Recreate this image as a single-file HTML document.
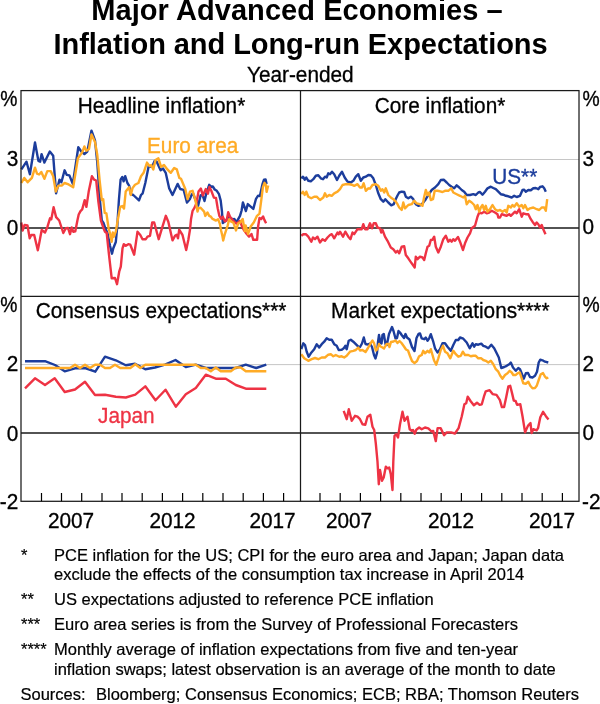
<!DOCTYPE html>
<html>
<head>
<meta charset="utf-8">
<title>Major Advanced Economies – Inflation and Long-run Expectations</title>
<style>
html,body{margin:0;padding:0;background:#fff;}
body{width:600px;height:704px;overflow:hidden;font-family:"Liberation Sans",sans-serif;}
svg{display:block;will-change:transform;}
text{font-family:"Liberation Sans",sans-serif;fill:#000;}
.t{font-weight:bold;font-size:29px;text-anchor:middle;}
.s{font-size:20.8px;stroke:#000;stroke-width:0.3px;}
.m{text-anchor:middle;}
.e{text-anchor:end;}
.f{font-size:16.5px;stroke:#000;stroke-width:0.2px;}
.ln{fill:none;stroke-width:2.4;stroke-linejoin:round;stroke-linecap:butt;}
.b{stroke:#1c3d9c;}
.o{stroke:#ffab26;}
.r{stroke:#ee3344;}
</style>
</head>
<body>
<svg width="600" height="704" viewBox="0 0 600 704">
<rect width="600" height="704" fill="#fff"/>
<!-- titles -->
<text class="t" x="297" y="20.3" style="letter-spacing:0.06px">Major Advanced Economies –</text>
<text class="t" x="300.6" y="53.7" style="letter-spacing:-0.065px">Inflation and Long-run Expectations</text>
<text class="s m" transform="translate(300.3 82.3) scale(1 1.05)">Year-ended</text>

<!-- gridlines -->
<g stroke="#c0c0c0" stroke-width="0.9" fill="none">
<path d="M21 159.5H579"/>
<path d="M21 364.6H579"/>
</g>
<!-- zero lines -->
<g stroke="#1a1a1a" stroke-width="1.4" fill="none">
<path d="M21 228H579"/>
<path d="M21 433H579"/>
</g>

<!-- DATA -->
<g id="p1">
<path class="ln b" d="M21.4,169.4 26.5,161.7 29.9,174.2 35,142.5 38.4,160.9 40.1,161.7 41.6,154.1 44.4,162.6 49.8,151.5 53.2,155.8 56.1,193.3 59.5,179.6 61.4,182.2 64.6,170.3 66.8,174.9 69.4,175.4 72.8,183.9 78.3,147.3 81.3,151.5 84.4,154.1 87.3,151.5 91.5,130.6 95,140.4 97.3,162.6 99.6,196.7 101.8,220.5 103.5,223 105,227.5 107.5,233.3 110,245.8 112,253.7 113.3,248.3 115.8,242 117.3,226 118.9,200 120.6,179.6 122.3,177 123.6,181.3 125.2,176.2 127.4,183 129.1,185.6 130.8,194.1 133.3,195 139,200.4 141,195 142.7,193.3 145.3,183 148.7,166 152.1,166.8 154.6,160.9 156.7,161.7 160.6,170.3 163.1,168.6 165.7,172.8 169.1,188.1 172.5,195 177.6,183.9 180.2,189 183.6,189.8 187,202.6 190,198.9 191.7,194.6 193,193.3 195.5,200 198.1,205.7 200.6,195.4 202.4,194.6 204.5,201 206.2,193.7 209.2,184.8 211.3,186.9 212.8,186.5 214.7,189.5 216.8,190.8 219,194.2 220.7,200.6 221.9,210.8 222.8,223.1 225.8,220.8 228.7,216.7 232.6,219.3 234.3,218.9 236.4,222.3 240,215.9 241.6,210.5 242.9,202.5 245.9,211 247.8,204.1 253.3,208.9 256,198.8 258.1,195.6 259.9,196.1 262.4,184.4 264,179.6 265.6,179.4 266.6,183.9"/>
<path class="ln r" d="M21.3,222.5 22.6,230.5 24.6,225 27.5,225.5 29.7,238.3 31.3,235 34.2,235 37.8,250.3 39.2,243.3 41.7,230 45,232.5 47.5,226.7 50,218.3 51.3,219.2 53.6,207.2 56.1,217.1 59.2,220.5 63.3,233 65.8,228.3 68,228 70,234.2 71.7,227.5 73.3,231.7 75.3,231.3 77.5,220 78.7,214.5 80.5,211.1 82.2,209.4 84.7,200.1 86.4,206.9 88.7,191.6 91.9,176.2 94.1,179.6 96.2,180.5 98.4,201.8 100.9,220.5 103.5,228.2 105,231.7 106.7,233 109.2,256.7 111.7,278.3 115,278 117,284.2 119.2,271.7 120.8,266.7 122.5,248.3 123.8,244.2 125.8,245.8 128.3,244.2 130.3,244.7 134.2,254.7 137.5,231.7 140.3,235 142.5,239.2 145.8,239.2 147.5,236.7 150,235.8 152.2,222.5 154.2,222.5 158.7,239.2 161.7,229.2 165.8,215.8 168.3,221.7 172.5,240.3 175,235.8 176.7,234.7 178,238.3 179.2,229.7 182.5,235 186.2,250 188.3,240 190,229.5 191,219.3 192.6,210.8 194.7,207.4 196.4,203.1 198.5,191.6 200.9,188.6 202.8,195.4 205.8,189.1 207.9,193.7 209.4,186.9 211.3,190.8 213.9,197.6 216,198 217.7,208.2 219.4,215.9 221.1,218.9 222.8,216.7 224.9,221.4 226.6,220.6 228.2,212.1 230,216.7 232.6,220.1 236.4,223.6 240,221 241.6,225.4 243.7,229.7 245.9,232.9 249.1,236.6 251.5,234 253.3,239.8 257.1,239.8 258.1,226.5 259.5,218 261.3,219 263.1,216.4 264.5,220.1 266.1,223.3"/>
<path class="ln o" d="M21.4,183 24.3,177.9 27.7,182.2 31.9,177.9 35,167.7 37,173.7 39.1,174.5 41.3,172 44.4,178.8 47.3,171.1 50.7,171.1 53.2,176.2 55.8,191.6 58.3,185.6 61.7,185.6 64.6,183 68.6,184.4 73.2,187.3 77.9,158.3 82.2,152.4 84.4,146.4 86.4,150.7 89,149 91.5,134.5 95,142.1 97.3,155 99.6,180 101.8,200 103.2,199.2 104.7,212.8 106.4,213.4 108.6,228.2 110,233.3 111.7,241.7 112.8,232.5 113.8,236.7 115.8,231.6 118,218.8 120.2,206.9 122.3,206 124,208.6 125.7,191.6 127.7,189 129.1,187.3 130.8,195 132.5,188.1 135,184.7 138.4,183 141,176.2 143.6,172.8 147,162.6 149.5,166 151.2,165.1 153.3,169.4 155.5,160 158.4,158.3 161.1,166.8 164,165.1 167.4,169.4 170.8,172.8 174.2,168 176.8,169.4 179.3,177.9 181,178.8 185.3,189 187.6,199.2 190,191.6 192.6,190.8 194.3,196.3 196.4,204.8 197.5,211.6 198.5,208.2 200.6,207.8 204.1,211.6 205.3,215.9 207.5,212.5 209.2,215.9 210.9,216.7 212.6,218.9 216,220.6 218.1,219.3 219.8,223.6 221.1,230.4 222.4,236 223.2,240.5 224.9,233.8 227.5,226.1 229.2,219.3 230.9,221.4 233.4,222.7 236,230.4 238.1,223.6 240,222.7 242.7,219 244.8,231.3 245.6,225.4 248,234 250.7,226.5 253.9,222.2 257,215.8 259.5,213.7 261.3,199.9 262.9,187.1 264.5,182.8 265.9,184.9 266.6,191.9 268.2,185.5"/>
</g>
<g id="p2">
<path class="ln b" d="M301.3,178.3 303,176.7 304.7,179.7 306.3,177.5 308.3,180.8 310.8,181.3 313.3,179.2 315.8,175.8 318.3,175.3 320.8,178.3 323,179.2 325,176.7 326.7,177.5 328.3,173.3 330,174.2 332,171.7 334.2,174.2 337,180 339.2,175.8 342,171.7 344.7,177.5 347.5,181.7 350.8,182.5 353.3,180.8 355.8,176.7 358.3,174.2 360.8,180.8 363.3,177.5 365.8,176.7 368.3,175 370.8,175.3 373.3,178.3 375.8,185 378.3,193.3 380.8,199.2 383.3,201.7 385.3,199.2 388.3,202.5 391.3,205.3 393.7,204.2 395.8,199 397.5,195.5 399.2,192.5 401.7,191.7 404.2,192 405.8,196.7 408.3,198.3 410.8,196.7 413.3,199.2 415.8,204.2 418.3,205.8 420.8,205 423.3,202.5 425.8,199.2 428.3,195 431.7,190 435,187.5 438.3,184.2 440.8,180 443.7,179.7 446.7,182.5 449.2,185 451.7,186.7 454.2,188.3 456.7,185.3 459.2,187.5 461.7,190 464.2,191.7 466.7,195 470,195 473.3,194.2 475.8,195 478.3,192.5 480,192 482.5,194.7 485,191.7 487.5,188.3 490.8,186.7 493.3,188 495.8,189.2 498.3,191.7 500.8,194.2 503.3,194.7 505.8,195.8 508.3,196.3 511.7,197.5 514.2,195.8 516.7,197 520,195.8 522.5,190 524.2,189.7 525.8,191.7 528.3,190 530.8,190.3 533.3,188.3 535.8,188 538.3,189.2 540,187 542.5,186.3 544.2,188.3 545.8,191.7"/>
<path class="ln r" d="M301.3,235.8 303.3,234.2 305.8,234.2 308.3,236.7 311.3,241.7 313,237.5 315,239.2 317.5,236.7 320,242.5 322.5,239.2 325,240.8 327.5,237.5 330,235 331.7,234.2 334.2,238.3 337.5,232.5 338.7,234.2 340,231.7 343,236.7 345.3,231.7 348.3,236.7 350.5,239.2 352.5,232.5 354.2,234.2 357.5,229.2 361.7,229.2 363.3,224.2 365,229.2 367.5,229.2 370,223.3 372,228.3 373.7,223.3 375.8,223.3 377.5,227.5 380,228.3 381.2,232.5 382.5,230 385,236.7 387.5,240.8 390.8,247.5 393.3,249.2 395.8,252.5 397.5,250.8 399.2,253.3 401.7,246.7 404.2,246.3 405.8,255 408.3,258.3 411.7,263.3 414.7,267.5 415.8,256.7 417.5,259.2 420,256.7 422.5,257.5 424.2,260 425.8,253.3 427.5,246.7 429.2,245.8 430.8,240 432.5,239.7 434.2,236.7 435.8,246.7 438.3,252.5 440.8,246.7 443.3,239.2 445.8,235.8 448.3,241.7 450,239.7 451.7,241.7 453.3,239.2 455,240.8 458,237 460,241.7 463,250 465,243.3 467.5,237.5 470,233.3 471.7,228.3 475,225.8 477.5,216.7 479.2,212.5 481.7,213.3 484.2,211.7 486.7,213.3 489.2,212.5 491.7,210.8 495,212.5 497.5,214.2 498.3,217.5 500,217.5 501.7,214.2 504.2,215 506.7,215.8 509.2,214.2 510.8,215.8 513.3,213.3 515,211.7 516.7,213.3 519.2,209.2 521.7,216.7 523.3,213.3 525.8,214.2 528.3,214.2 530.8,219.2 532.5,221.7 535,225 536.7,222.5 538.3,224.2 540,227.5 541.7,225 543.3,229.2 545.5,234.2"/>
<path class="ln o" d="M301.3,194.2 303,191.7 304.7,195 306.3,191.7 308.3,196.7 311.3,198.3 314.2,196.7 316.7,196.7 320,200 323.3,197.5 325,193.3 326.7,196.7 329.2,195 331.7,195.8 334.2,193.3 337.5,191.7 340,189.2 342.5,185 345.8,184.2 349.2,184.2 351.7,184.7 354.2,185.8 357.5,184.2 360,187.5 362,187.5 363.7,183.3 365.8,190.8 368.3,188.3 370,188.7 372.5,185 375.8,184.2 378.3,185.8 380.8,190.8 382.5,189.2 384.2,192.5 385.8,188.3 388.3,195 390.8,197.5 393.3,199.2 395.8,201.7 397.5,204.2 399.2,207.5 401.7,210 403.3,202.5 405,208.3 408.3,205 411.7,204.2 414.2,200.8 416.7,203.3 420,204.2 422.5,205.8 424.2,196.7 425.8,190 427.5,195 429.2,192.5 430.8,200 433,199.2 434.7,190.8 437.5,190.8 440,191.3 442.5,192 445,190.8 448.3,190.8 451.2,188.3 453.3,192.5 456.7,194.2 460,195.8 463.3,197.5 465,195.8 466.7,204.2 469.2,200.8 471.7,202.5 474.2,205 475.8,209.2 477.5,205 479.2,211.7 480.8,207.5 482.5,205 484.2,210 485.8,205.8 487.5,211.7 490,209.2 492.5,205 495,209.2 497.5,210.8 500,210 502.5,211.7 505,210 506.7,212.5 508.3,205.8 510.8,207.5 512.5,205 514.2,206.7 516.7,203.3 519.2,206.7 521.7,205 523.3,208.3 525,205 527.5,210 530,208.3 533.3,207.5 536.7,209.2 539.2,210 541.7,207.5 544.2,207.5 545.8,210.8 547.2,199.2"/>
</g>
<g id="p3">
<path class="ln r" d="M25,388.3 35,378.3 45,385 54.7,378.3 64.7,392 75,389.5 85,381.7 95,395 105,394.7 115.8,396.7 125.8,397.5 135.3,394.7 145.3,386.3 155.5,400.3 165.5,389.7 175.8,406.7 185.8,394.2 195.8,388 205.8,374.7 215.8,378.7 225.8,378.7 235.8,385 245.8,388.7 266.3,388.7"/>
<path class="ln b" d="M25,361.2 45,361.2 55,365 64.7,371.3 75,368.3 85,368 95.3,371.7 105,356.7 115.8,360.3 125.8,365.3 135,363.7 145.3,369.2 155,367.5 165,364.7 175.5,360 185.8,367 195.8,364.7 205.8,368 215.8,368 235.8,368 245.8,364.7 256.2,368 266.3,364.7"/>
<path class="ln o" d="M25,368 70,368 75,364.7 80,368 85,364.7 90,368 95,364.7 100,364.7 105,368 110,368 115,364.7 120.3,368 130.3,368 135.3,364.2 140.3,368 145.3,364.7 195.8,364.7 200.8,368 205.8,368 210.8,371.3 215.8,367.5 220.8,371.3 230.8,371.3 235.8,367.5 240.8,367.5 245.8,371.3 266.3,371.3"/>
</g>
<g id="p4">
<path class="ln b" d="M301.3,349.2 303.3,343.3 305,345 306.7,351.7 308.7,356.7 310.8,353.3 314.2,349.2 316.7,344.2 319.2,347.5 321.7,344.2 324.2,341.7 326.7,338.3 329.2,339.7 331.7,339.7 334.2,344.2 336.7,345.8 338.7,350 341.7,349.7 343.7,348.3 345.3,345.8 346.7,349.2 348.7,340.8 350.8,339.7 353.3,341.7 355.8,344.2 358.3,346.7 360,347 362,343.5 363.8,337.5 365.5,344 367.5,344.5 370,343.5 372,347 374,355 375.5,358.5 377,353 378,342 379,335 380.5,343 381.5,343.5 382.5,335 383.8,334 385.5,344 386.8,345 389,334 392,327 393.5,331 395.5,338.5 397,338 398.5,331 400,332.5 402,335.5 404,338 405.5,334 407,337.5 409.5,339.5 412,347 414.5,351 416.5,338 418.5,334 420,333.5 421.7,338.3 424.2,339.2 425.8,337.5 427.5,340.8 429.2,338.3 430.8,334.2 433,340.8 435,348.3 437.5,352.5 440,349.2 442.5,343.3 445,343.3 447.5,346.7 450.8,350.8 453.3,345 455.8,340 458.3,340 460,337.5 463.3,338.7 466.7,342.5 469.7,348.3 472.5,343.3 474.2,346.7 475.8,344.2 478.3,344.7 481.3,343.7 483.3,345.8 485.8,346.7 488.3,348.3 491.3,344.7 494.2,348.3 496.7,353.3 498.8,357.5 501.3,368 504.2,367 506.7,365.8 509.2,364.2 510.8,362.5 513,367.5 515.8,370.8 518.3,368 520,369.2 522,374.2 523.8,378.7 525.8,373.3 528,373 530,377 532.5,377.5 535,375.8 537,371.7 538.7,362.5 540.3,359.7 542.5,360.3 545,361.7 548.3,362.5"/>
<path class="ln r" d="M343.7,410.8 346.7,419.2 348.8,409.2 351.7,420.8 355,415.8 357.5,416.7 360,419.2 362.5,424.2 365.3,424.7 367.5,416.7 370.3,414.7 372.5,426.7 374.2,430 375.8,443.3 377.5,461.7 378.8,484.2 380,470 382,480.8 383.7,477.5 385.8,466.7 387.5,468.3 389.2,467.5 390.8,474.2 392.5,490 393.3,461.7 394.5,435.8 396.3,434.2 398,437.5 400,424.2 402.5,411.7 404.5,420.8 407.5,416.7 409.7,429.2 411.7,430.8 413,430 414.7,433.7 416.3,429.7 419.2,427.5 421.7,429.2 425,427.5 428.3,428.3 431.5,431.5 433.2,430.9 435.8,441.1 437.6,428.1 440.6,428.1 444.1,435.2 446.7,432.4 451,432.4 454.9,433.5 458.6,428.1 461.8,416.2 464.4,404.3 466.2,403.2 467.7,396.7 470.5,401 473.8,405.3 477,402.7 479.6,404.9 481.8,404.3 483.9,396.7 485.7,391.3 489.6,390.2 492.6,394.1 496.5,394.9 499.8,399.9 501.9,407.1 504.1,407.1 506.3,396.7 508.4,386.3 510.2,385.8 512.1,393.4 513.8,400.6 515.6,401 517.1,404.9 520.3,404.3 522.5,416.2 525.1,432.4 527.9,425.9 530.5,423.1 531.6,433.1 533.3,429.2 536.6,430.3 538.1,428.1 540.3,417.3 543.1,411.8 545.9,416.2 548.5,419.4"/>
<path class="ln o" d="M301.3,354.2 304.2,358.3 308.3,360.8 311.7,359.2 315,358 318.3,359.2 321.7,357.5 325,357.5 328.3,354.7 330.8,354.2 333.3,356.3 335.8,355 339.2,356.7 341.7,356.3 344.2,357.5 346.7,355.8 350,351.7 353.3,350.8 355.8,350 358.3,347.5 360,350.5 362.5,350 365.5,352 368,348 370.5,343.5 372.5,340.5 374,343 375.8,350.5 377.5,349 379,344 380.5,346.5 382.5,347.5 384,348.5 386.5,344 388.5,344 389.5,347 391,342 393.5,341.5 395.5,340.5 397.5,343 399.5,341 401.5,343 404,346.5 406,349.5 408,350.5 410,356 412,361 414.5,363.2 417,361 419,356.5 420,355.8 421.7,355 423.3,350.8 425,353.3 427.5,350.8 429.2,352.5 430.8,349.2 432.5,355 434.2,360.8 436.2,364.7 438.3,358.3 440.8,350 443,345.8 445,351.7 447.5,353.3 450.3,358.3 453.3,350.8 455.8,354.2 458.3,356.7 460.8,355.8 462.8,351.7 465,355 468.3,355 470.8,356.3 473.3,355.8 475.8,355.8 478.3,358.3 481.3,358.3 483.3,360 485.8,360.8 488.3,362.5 490.8,360.8 493.3,364.2 495.8,369.2 498.3,371.7 500.3,375.8 502.5,378.7 505,375 507.5,373.3 509.7,370.8 511.7,372.5 513.3,375 515.8,375 517.5,373.3 519.7,372.5 521.7,378.3 523.3,383.3 525.8,383.7 528.3,381.7 530.3,385.8 532.5,388.3 535,388 536.7,385.8 538.7,380 540.8,374.2 543,373 545,376.7 546.7,378.3 548.3,377.5"/>
</g>

<!-- frame -->
<g stroke="#1a1a1a" stroke-width="1.25" fill="none">
<rect x="21" y="90.6" width="558" height="410.7"/>
<path d="M300.5 90.6V501.3"/>
<path d="M21 296.4H579"/>
</g>
<!-- ticks -->
<g stroke="#000" stroke-width="1.2" fill="none">
<path d="M41.5 493V501.3M61.5 493V501.3M81.7 493V501.3M102 493V501.3M122 493V501.3M142.2 493V501.3M162.4 493V501.3M182.6 493V501.3M202.8 493V501.3M223 493V501.3M243.2 493V501.3M263.4 493V501.3M283.6 493V501.3"/>
<path d="M320 493V501.3M340.2 493V501.3M360.4 493V501.3M380.6 493V501.3M400.8 493V501.3M421 493V501.3M441.2 493V501.3M461.4 493V501.3M481.6 493V501.3M501.8 493V501.3M522 493V501.3M542.2 493V501.3M562.4 493V501.3"/>
</g>

<!-- y labels -->
<g class="s">
<text transform="translate(0.3 106.3) scale(0.93 1.05)">%</text>
<text transform="translate(582.4 106.3) scale(0.93 1.05)">%</text>
<text transform="translate(0.3 311.9) scale(0.93 1.05)">%</text>
<text transform="translate(582.4 311.9) scale(0.93 1.05)">%</text>
<text class="e" transform="translate(18.2 165.7) scale(1 1.05)">3</text>
<text class="e" transform="translate(18.2 234.7) scale(1 1.05)">0</text>
<text class="e" transform="translate(18.2 371.3) scale(1 1.05)">2</text>
<text class="e" transform="translate(18.2 440.5) scale(1 1.05)">0</text>
<text class="e" transform="translate(18.2 509) scale(1 1.05)">-2</text>
<text transform="translate(582.6 165.8) scale(1 1.05)">3</text>
<text transform="translate(582.6 234.4) scale(1 1.05)">0</text>
<text transform="translate(582.6 370.8) scale(1 1.05)">2</text>
<text transform="translate(582.6 440) scale(1 1.05)">0</text>
<text transform="translate(582 509) scale(1 1.05)">-2</text>
</g>
<!-- x labels -->
<g class="s m">
<text transform="translate(71 528.3) scale(1 1.05)">2007</text>
<text transform="translate(172.5 528.3) scale(1 1.05)">2012</text>
<text transform="translate(272.5 528.3) scale(1 1.05)">2017</text>
<text transform="translate(349 528.3) scale(1 1.05)">2007</text>
<text transform="translate(451 528.3) scale(1 1.05)">2012</text>
<text transform="translate(552 528.3) scale(1 1.05)">2017</text>
</g>
<!-- panel titles -->
<g class="s m">
<text transform="translate(161.5 113) scale(1 1.05)">Headline inflation*</text>
<text transform="translate(440 113) scale(1 1.05)">Core inflation*</text>
<text transform="translate(161 317.5) scale(1 1.05)">Consensus expectations***</text>
<text transform="translate(440.3 317.5) scale(1 1.05)">Market expectations****</text>
</g>
<!-- series labels -->
<g class="s">
<text transform="translate(147 153) scale(1 1.05)" style="fill:#ffab26;stroke:#ffab26">Euro area</text>
<text transform="translate(492.2 183.6) scale(1 1.05)" style="fill:#1c3d9c;stroke:#1c3d9c">US**</text>
<text transform="translate(98 423) scale(1 1.05)" style="fill:#ee3344;stroke:#ee3344">Japan</text>
</g>

<!-- footnotes -->
<g class="f">
<text x="21" y="561">*</text>
<text x="54" y="561">PCE inflation for the US; CPI for the euro area and Japan; Japan data</text>
<text x="54" y="580">exclude the effects of the consumption tax increase in April 2014</text>
<text x="21" y="605">**</text>
<text x="54" y="605">US expectations adjusted to reference PCE inflation</text>
<text x="21" y="630">***</text>
<text x="54" y="630">Euro area series is from the Survey of Professional Forecasters</text>
<text x="21" y="654.5">****</text>
<text x="54" y="654.5">Monthly average of inflation expectations from five and ten-year</text>
<text x="54" y="674.5">inflation swaps; latest observation is an average of the month to date</text>
<text x="20.5" y="700">Sources:</text>
<text x="96" y="700">Bloomberg; Consensus Economics; ECB; RBA; Thomson Reuters</text>
</g>
</svg>
</body>
</html>
